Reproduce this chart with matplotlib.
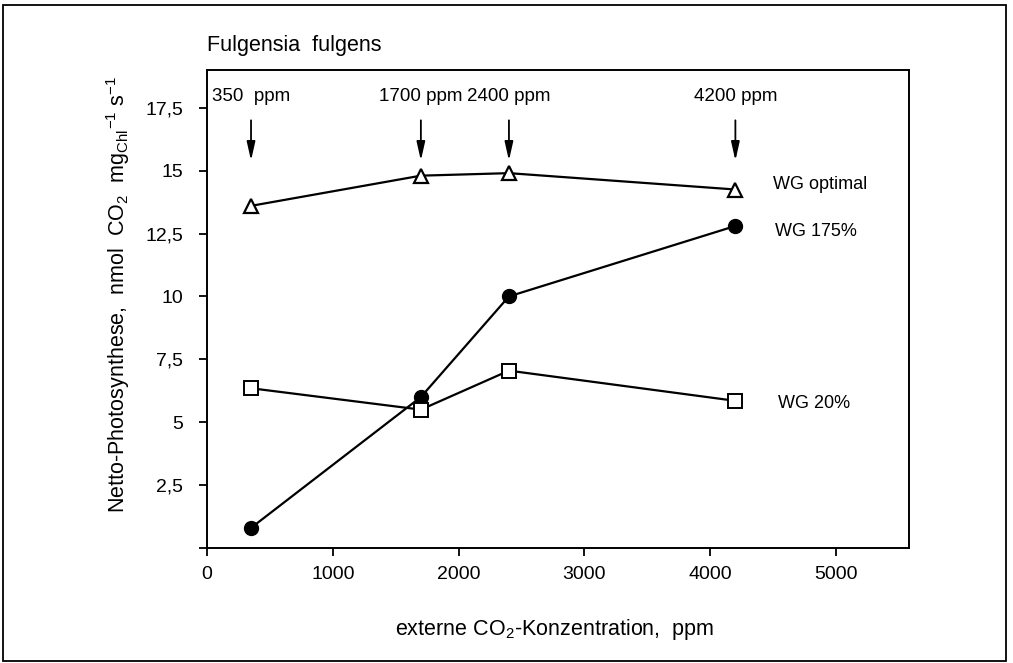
import matplotlib
matplotlib.use("Agg")
import matplotlib.pyplot as plt
from matplotlib.patches import Rectangle

plt.rcParams['font.family'] = ['Liberation Sans', 'DejaVu Sans']
plt.rcParams['mathtext.fontset'] = 'custom'
plt.rcParams['mathtext.rm'] = 'Liberation Sans'
plt.rcParams['mathtext.it'] = 'Liberation Sans'
plt.rcParams['mathtext.default'] = 'regular'

# CO2 concentrations (ppm)
co2 = [350, 1700, 2400, 4200]
wg_optimal = [13.6, 14.8, 14.9, 14.25]
wg_175 = [0.8, 6.0, 10.0, 12.8]
wg_20 = [6.35, 5.5, 7.05, 5.85]

arrow_labels = ['350  ppm', '1700 ppm', '2400 ppm', '4200 ppm']
xticks = [0, 1000, 2000, 3000, 4000, 5000]
yticks = [0, 2.5, 5, 7.5, 10, 12.5, 15, 17.5]
ytick_labels = ['', '2,5', '5', '7,5', '10', '12,5', '15', '17,5']

fig = plt.figure(figsize=(10.13, 6.63), dpi=100)
ax = fig.add_axes([207/1013, 115/663, 702/1013, 478/663])

ax.plot(co2, wg_optimal, '-', color='black', lw=1.6, marker='^', ms=10,
        mfc='white', mec='black', mew=1.6)
ax.plot(co2, wg_175, '-', color='black', lw=1.6, marker='o', ms=10,
        mfc='black', mec='black')
ax.plot(co2, wg_20, '-', color='black', lw=1.6, marker='s', ms=9.5,
        mfc='white', mec='black', mew=1.4)

for x, lab in zip(co2, arrow_labels):
    ax.text(x, 17.95, lab, ha='center', va='center', fontsize=13.5)
    ax.annotate('', xy=(x, 15.4), xytext=(x, 17.0),
                arrowprops=dict(arrowstyle='-|>,head_width=0.18,head_length=0.8',
                                lw=1.3, color='black', mutation_scale=14,
                                shrinkA=0, shrinkB=0))

ax.text(4495, 14.45, 'WG optimal', ha='left', va='center', fontsize=13)
ax.text(4511, 12.6, 'WG 175%', ha='left', va='center', fontsize=13)
ax.text(4535, 5.75, 'WG 20%', ha='left', va='center', fontsize=13)

ax.set_xlim(0, 5580)
ax.set_ylim(0, 19)
ax.set_xticks(xticks)
ax.set_yticks(yticks)
ax.set_yticklabels(ytick_labels)
ax.tick_params(direction='out', length=6, width=1.3, labelsize=14)
ax.tick_params(axis='x', pad=7)
ax.tick_params(axis='y', pad=11)
for s in ax.spines.values():
    s.set_linewidth(1.4)

fig.text(207/1013, 1 - 45/663, 'Fulgensia  fulgens', ha='left', va='center', fontsize=15.5)
fig.text(555/1013, 1 - 630/663, 'externe CO$_2$-Konzentration,  ppm',
         ha='center', va='center', fontsize=15.5)
fig.text(118/1013, 1 - 294/663,
         'Netto-Photosynthese,  nmol  CO$_2$  mg$_{Chl}$$^{-1}$ s$^{-1}$',
         ha='center', va='center', rotation=90, fontsize=15.5)

fig.patches.append(Rectangle((3/1013, 2/663), 1003/1013, 656/663,
                             transform=fig.transFigure, fill=False,
                             edgecolor='black', lw=1.3))

fig.savefig('out.png', dpi=100)
